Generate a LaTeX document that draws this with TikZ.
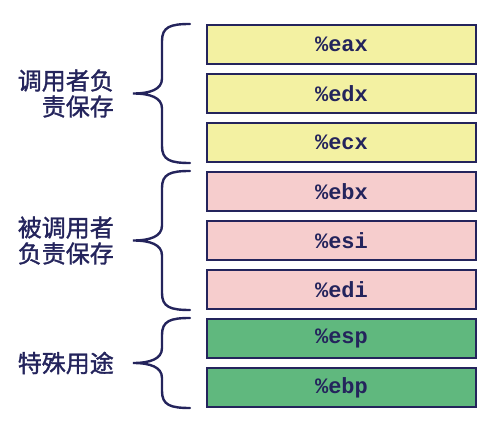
\documentclass[tikz,border=0pt]{standalone}
\usepackage{fontspec}
\newfontfamily\cjk{Noto Sans CJK SC}[FakeBold=1.4]
\newfontfamily\regfont{Liberation Mono}
\usepackage{tikz}

\definecolor{navy}{RGB}{36,36,92}
\definecolor{callery}{RGB}{243,241,162}
\definecolor{calleep}{RGB}{246,205,205}
\definecolor{specg}{RGB}{96,184,126}

\tikzset{
  reg/.style={draw=navy,line width=2.6pt,minimum width=269pt,minimum height=39pt,
    inner sep=0pt,text=navy,font=\regfont\bfseries\fontsize{22}{24}\selectfont},
  bracel/.style={draw=navy,line width=2.4pt,line cap=round},
  grplabel/.style={anchor=east,align=right,text=navy,inner sep=0pt,
    font=\cjk\fontsize{24}{26}\selectfont}
}

\begin{document}
\begin{tikzpicture}[x=1pt,y=-1pt]
  \useasboundingbox (0,0) rectangle (491,430);
  % Register boxes
  \foreach \r/\c [count=\i from 0] in {eax/callery,edx/callery,ecx/callery,
      ebx/calleep,esi/calleep,edi/calleep,esp/specg,ebp/specg}{
    \node[reg,fill=\c] (\r) at (341.5,{44.5+49*\i}) {\%\r};}
  % Braces with group labels
  \foreach \t/\b/\n/\l in {24/163/grpa/{调用者负\\责保存},
      171/310/grpb/{被调用者\\负责保存},318/408/grpc/{特殊用途}}{
    \pgfmathsetmacro{\m}{(\t+\b)/2}
    \draw[bracel] (190,\t) .. controls (170,\t) and (162,{\t+3}) .. (162,{\t+17})
      -- (162,{\m-15}) .. controls (162,{\m-4}) and (150,\m) .. (133,\m)
      .. controls (150,\m) and (162,{\m+4}) .. (162,{\m+15})
      -- (162,{\b-17}) .. controls (162,{\b-3}) and (170,\b) .. (190,\b);
    \node[grplabel] (\n) at (114,\m) {\l};}
\end{tikzpicture}
\end{document}
